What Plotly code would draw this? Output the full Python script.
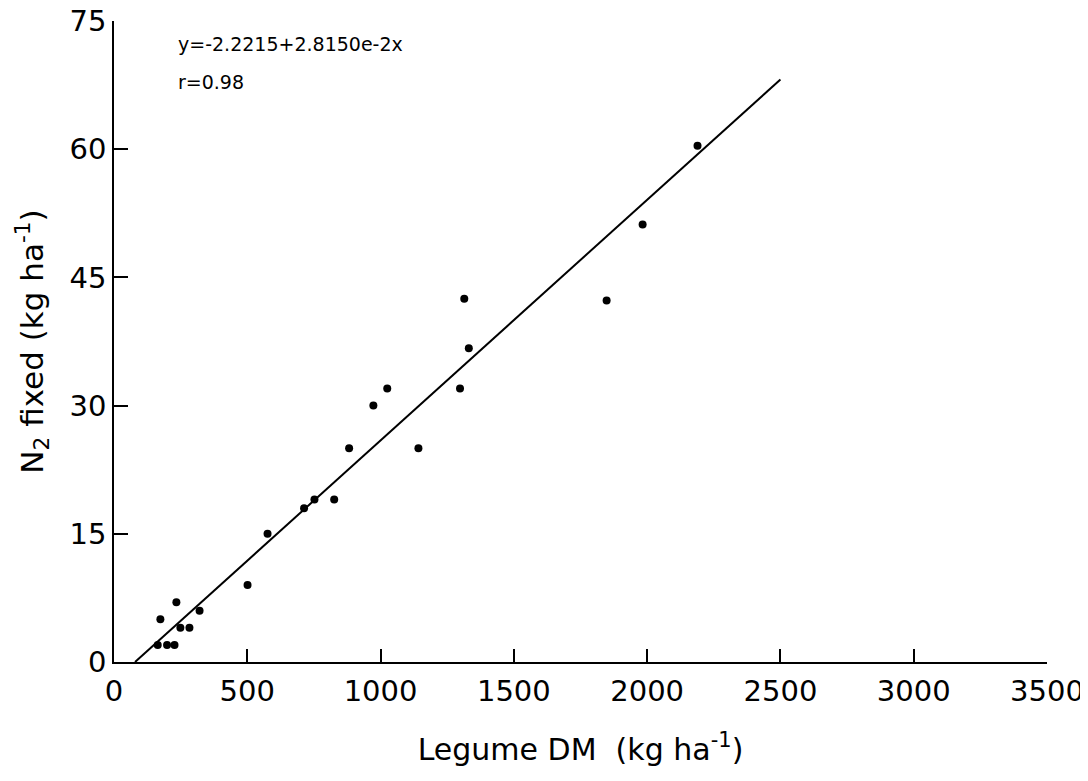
import plotly.graph_objects as go

# Data
legume_dm = [164, 199, 227, 174, 234, 249, 283, 321, 501, 576, 713, 752, 826,
             882, 973, 1025, 1142, 1298, 1314, 1331, 1848, 1983, 2189]
n2_fixed = [2, 2, 2, 5, 7, 4, 4, 6, 9, 15, 18, 19, 19,
            25, 30, 32, 25, 32, 42.5, 36.7, 42.3, 51.2, 60.4]

intercept = -2.2215
slope = 2.8150e-2
fit_x_end = 2500
fit_x = [-intercept / slope, fit_x_end]
fit_y = [intercept + slope * v for v in fit_x]

x_ticks = [0, 500, 1000, 1500, 2000, 2500, 3000, 3500]
y_ticks = [0, 15, 30, 45, 60, 75]

FONT = "DejaVu Sans"

fig = go.Figure()
fig.add_trace(go.Scatter(x=fit_x, y=fit_y, mode="lines",
                         line=dict(color="black", width=2), showlegend=False))
fig.add_trace(go.Scatter(x=legume_dm, y=n2_fixed, mode="markers",
                         marker=dict(color="black", size=8), showlegend=False))

fig.update_layout(
    width=1080, height=773,
    margin=dict(l=106, r=41, t=13, b=119, autoexpand=False),
    paper_bgcolor="white", plot_bgcolor="white",
    font=dict(family=FONT, color="black", size=29),
    xaxis=dict(range=[0, 3500], tickvals=x_ticks, ticks="inside", ticklen=13,
               tickwidth=1.5, tickcolor="black", showline=True, linecolor="black",
               linewidth=1.5, showgrid=False, zeroline=False, automargin=False,
               ticklabeloverflow="allow",
               tickfont=dict(size=29, family=FONT), ticklabelstandoff=2,
               title=dict(text="Legume DM  (kg ha<sup>-1</sup>)",
                          font=dict(size=30, family=FONT), standoff=32)),
    yaxis=dict(range=[0, 75], tickvals=y_ticks, ticks="inside", ticklen=14,
               tickwidth=1.5, tickcolor="black", showline=True, linecolor="black",
               linewidth=1.5, showgrid=False, zeroline=False, automargin=False,
               ticklabeloverflow="allow",
               tickfont=dict(size=29, family=FONT), ticklabelstandoff=0,
               title=dict(text="N<sub>2</sub> fixed (kg ha<sup>-1</sup>)",
                          font=dict(size=31, family=FONT), standoff=17)),
    annotations=[
        dict(text="y=-2.2215+2.8150e-2x", xref="paper", yref="paper",
             x=0.066, y=0.964, xanchor="left", yanchor="middle",
             showarrow=False, font=dict(size=19, family=FONT)),
        dict(text="r=0.98", xref="paper", yref="paper",
             x=0.066, y=0.905, xanchor="left", yanchor="middle",
             showarrow=False, font=dict(size=19, family=FONT)),
    ],
)

fig.write_html("out.html")
